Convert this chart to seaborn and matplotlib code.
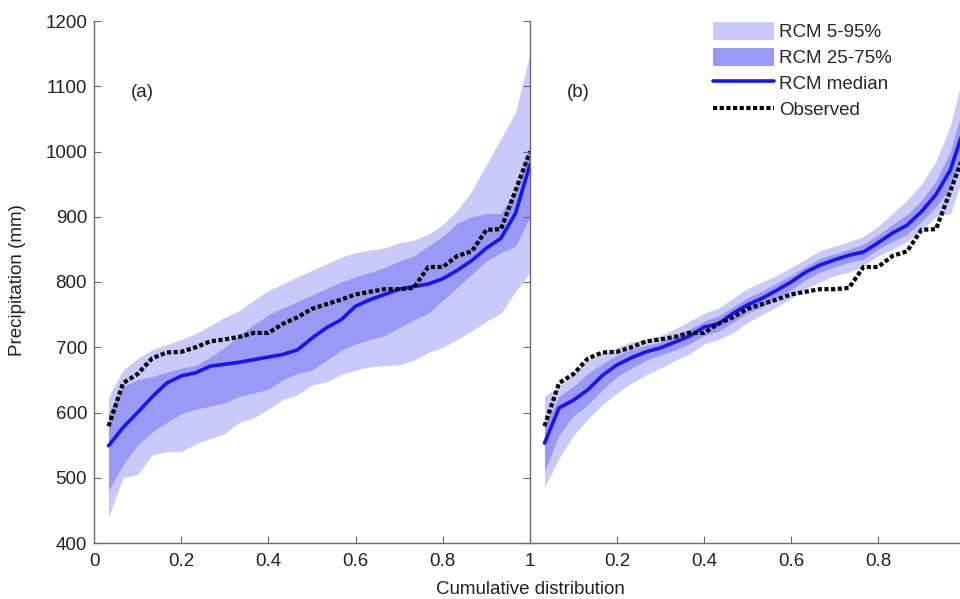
import numpy as np
import pandas as pd
import matplotlib
matplotlib.use("Agg")
import matplotlib.pyplot as plt
import seaborn as sns
from matplotlib.patches import Patch
from matplotlib.lines import Line2D
from matplotlib.ticker import FormatStrFormatter

# cumulative distribution positions (30 ranked years)
cdf = np.arange(1, 31) / 30

observed = [579, 645, 659, 683, 692, 693, 700, 709, 712, 716,
            722, 722, 736, 746, 759, 766, 773, 781, 785, 789,
            789, 791, 823, 823, 840, 847, 880, 881, 940, 1000]

# panel (a)
a_median = [549, 577, 600, 624, 645, 656, 661, 671, 674, 677,
            681, 685, 689, 696, 714, 730, 742, 763, 773, 781,
            789, 793, 797, 805, 818, 833, 852, 867, 905, 980]
a_p05 = [440, 500, 505, 535, 540, 540, 552, 560, 568, 585,
         592, 605, 620, 627, 642, 647, 658, 665, 670, 672,
         673, 680, 692, 700, 712, 725, 740, 752, 785, 815]
a_p95 = [624, 665, 683, 696, 704, 712, 721, 733, 746, 756,
         772, 787, 797, 808, 818, 828, 838, 845, 849, 852,
         860, 864, 873, 888, 910, 940, 980, 1020, 1060, 1150]
a_p25 = [480, 520, 550, 570, 585, 598, 605, 610, 615, 625,
         630, 636, 650, 660, 665, 680, 695, 705, 712, 718,
         730, 742, 752, 772, 792, 812, 832, 845, 855, 900]
a_p75 = [600, 640, 650, 655, 662, 668, 672, 685, 700, 718,
         735, 750, 760, 770, 780, 790, 800, 808, 815, 822,
         832, 840, 855, 870, 890, 900, 905, 905, 940, 1010]

# panel (b)
b_median = [553, 607, 619, 635, 657, 673, 684, 693, 699, 708,
            717, 731, 736, 752, 765, 775, 787, 800, 815, 826,
            834, 841, 846, 860, 875, 887, 908, 934, 972, 1040]
b_p05 = [486, 530, 565, 590, 612, 630, 645, 658, 668, 680,
         690, 705, 712, 722, 738, 750, 762, 775, 790, 800,
         810, 815, 825, 840, 850, 862, 880, 900, 905, 970]
b_p95 = [625, 640, 660, 680, 690, 700, 708, 712, 718, 728,
         740, 752, 760, 775, 790, 800, 810, 822, 835, 848,
         855, 862, 870, 885, 905, 925, 950, 985, 1040, 1130]
b_p25 = [510, 565, 595, 612, 635, 655, 668, 680, 688, 696,
         705, 718, 725, 738, 752, 762, 775, 788, 803, 815,
         823, 830, 835, 850, 862, 873, 893, 915, 945, 1000]
b_p75 = [580, 625, 640, 660, 675, 688, 697, 703, 708, 718,
         728, 740, 748, 762, 776, 786, 798, 810, 824, 836,
         843, 850, 858, 872, 888, 903, 925, 955, 1000, 1080]

light = "#c9c9fb"
dark = "#9a9af6"
blue = "#1414ff"

sns.set_style("ticks")
plt.rcParams["font.family"] = ["Liberation Sans", "DejaVu Sans"]
fs = 13.5
plt.rcParams["font.size"] = fs

fig = plt.figure(figsize=(9.6, 5.99), dpi=100)
ax1 = fig.add_axes([94 / 960, 1 - 543 / 599, 436 / 960, 522 / 599])
ax2 = fig.add_axes([530 / 960, 1 - 543 / 599, 430 / 960, 522 / 599])

panels = [(ax1, a_median, a_p05, a_p95, a_p25, a_p75, "(a)"),
          (ax2, b_median, b_p05, b_p95, b_p25, b_p75, "(b)")]

for ax, med, p05, p95, p25, p75, tag in panels:
    df = pd.DataFrame({"cdf": cdf, "median": med, "obs": observed})
    ax.fill_between(cdf, p05, p95, color=light, lw=0)
    ax.fill_between(cdf, p25, p75, color=dark, lw=0)
    sns.lineplot(data=df, x="cdf", y="median", ax=ax, color=blue, lw=2.6)
    sns.lineplot(data=df, x="cdf", y="obs", ax=ax, color="black", lw=3,
                 linestyle=(0, (1.0, 0.6)))
    ax.set_ylim(400, 1200)
    ax.set_yticks(range(400, 1201, 100))
    ax.set_xlabel("")
    ax.set_ylabel("")
    ax.text(0.11, 1090, tag, fontsize=fs, ha="center", va="center")
    for s in ["top", "right"]:
        ax.spines[s].set_visible(False)
    for s in ["left", "bottom"]:
        ax.spines[s].set_color("#6a6a6a")
        ax.spines[s].set_linewidth(1.0)
    ax.xaxis.set_major_formatter(FormatStrFormatter("%g"))
    ax.set_facecolor("none")

ax1.set_xlim(0, 1)
ax1.set_xticks([0, 0.2, 0.4, 0.6, 0.8, 1])
ax1.tick_params(direction="in", length=5, color="#6a6a6a", labelcolor="#222222")
ax1.tick_params(axis="x", pad=7)
ax1.tick_params(axis="y", pad=5)

ax2.set_xlim(0, 430 / 435)
ax2.set_xticks([0.2, 0.4, 0.6, 0.8])
ax2.tick_params(axis="x", direction="in", length=5, color="#6a6a6a",
                labelcolor="#222222", pad=7)
ax2.tick_params(axis="y", direction="out", length=5, color="#6a6a6a",
                labelleft=False)

fig.text(18 / 960, 1 - 280 / 599, "Precipitation (mm)", rotation=90,
         ha="center", va="center", fontsize=fs, color="#222222")
fig.text(530 / 960, 1 - 589 / 599, "Cumulative distribution",
         ha="center", va="center", fontsize=fs, color="#222222")

handles = [Patch(facecolor=light, edgecolor="none", label="RCM 5-95%"),
           Patch(facecolor=dark, edgecolor="none", label="RCM 25-75%"),
           Line2D([], [], color=blue, lw=2.6, label="RCM median"),
           Line2D([], [], color="black", lw=3, linestyle=(0, (1.0, 0.6)),
                  label="Observed")]
fig.legend(handles=handles, loc="upper left",
           bbox_to_anchor=(705 / 960, 1 - 14 / 599), frameon=False,
           handlelength=3.3, handleheight=1.1, labelspacing=0.36,
           handletextpad=0.25, fontsize=fs, borderaxespad=0)

fig.savefig("out.png", dpi=100)
